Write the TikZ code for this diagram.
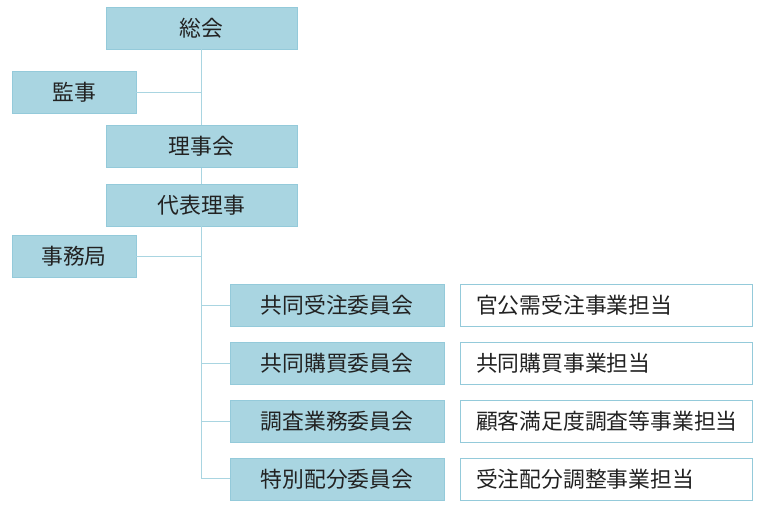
\documentclass[tikz,border=0pt]{standalone}
\usepackage{fontspec}
\setmainfont{Noto Sans CJK JP}
\usepackage{xcolor}
\definecolor{boxblue}{HTML}{A9D5E1}
\definecolor{boxedge}{HTML}{94CADA}
\definecolor{txtgray}{HTML}{222222}

\begin{document}
\begin{tikzpicture}[x=1pt,y=-1pt, every node/.style={font=\fontsize{21.8}{26}\selectfont, text=txtgray},
  bluebox/.style={fill=boxblue, draw=boxedge, line width=0.8pt, minimum height=42pt, inner sep=0pt},
  tantou/.style={fill=white, draw=boxedge, line width=0.8pt, minimum height=42pt,
    text width=260pt, inner xsep=16pt, inner ysep=0pt, align=left},
  conn/.style={draw=boxblue, line width=1pt}]
  \useasboundingbox (0,0) rectangle (770,510);

  \node[bluebox, minimum width=191pt] (soukai) at (201.5,28) {総会};
  \node[bluebox, minimum width=124pt] (kansa) at (74,92.5) {監事};
  \node[bluebox, minimum width=191pt] (riji) at (201.5,146.5) {理事会};
  \node[bluebox, minimum width=191pt] (daihyo) at (201.5,205) {代表理事};
  \node[bluebox, minimum width=124pt] (jimu) at (74,256.5) {事務局};

  \foreach \i/\iin/\duty in {0/共同受注委員会/官公需受注事業担当,
                            1/共同購買委員会/共同購買事業担当,
                            2/調査業務委員会/顧客満足度調査等事業担当,
                            3/特別配分委員会/受注配分調整事業担当} {
    \node[bluebox, minimum width=214pt] (iin\i) at (337,305.5+57.8*\i) {\iin};
    \node[tantou] (tan\i) at (606,305.5+57.8*\i) {\duty};
  }

  \draw[conn] (soukai.south) -- (riji.north);
  \draw[conn] (riji.south) -- (daihyo.north);
  \draw[conn] (daihyo.south) -- (daihyo.south |- iin3.west) -- (iin3.west);
  \draw[conn] (kansa.east) -- (kansa.east -| soukai.south);
  \draw[conn] (jimu.east) -- (jimu.east -| daihyo.south);
  \foreach \i in {0,1,2} {
    \draw[conn] (iin\i.west) -- (iin\i.west -| daihyo.south);
  }
\end{tikzpicture}
\end{document}
